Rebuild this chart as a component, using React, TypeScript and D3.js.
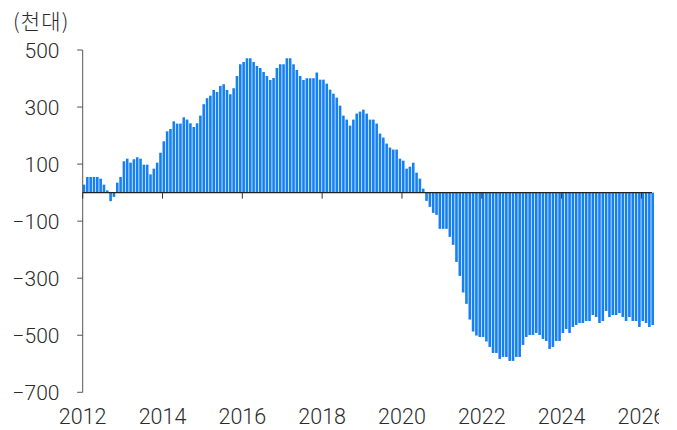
import React from 'react';
import * as d3 from 'd3';

const unitLabel = '(천대)';
const yearTicks = [2012, 2014, 2016, 2018, 2020, 2022, 2024, 2026];
const yTicks = [500, 300, 100, -100, -300, -500, -700];
const startYear = 2012;

// monthly values, Jan 2012 onward
const values = [
  // 2012
  28, 55, 55, 55, 55, 49, 28, 8, -30, -15, 35, 55,
  // 2013
  110, 119, 105, 117, 124, 119, 98, 98, 64, 84, 105, 140,
  // 2014
  180, 215, 223, 250, 242, 242, 264, 256, 243, 230, 243, 270,
  // 2015
  310, 331, 340, 360, 353, 374, 380, 360, 345, 366, 409, 450,
  // 2016
  458, 471, 471, 458, 444, 437, 423, 409, 395, 402, 437, 450,
  // 2017
  450, 471, 471, 450, 430, 409, 395, 401, 401, 401, 421, 396,
  // 2018
  396, 382, 361, 347, 333, 305, 270, 256, 235, 256, 277, 284,
  // 2019
  291, 277, 256, 256, 242, 207, 193, 172, 158, 151, 151, 119,
  // 2020
  112, 84, 91, 105, 70, 49, 14, -29, -50, -71, -78, -127,
  // 2021
  -127, -127, -155, -183, -243, -292, -350, -390, -445, -487, -501, -506,
  // 2022
  -506, -522, -541, -562, -562, -583, -576, -576, -590, -590, -576, -576,
  // 2023
  -534, -506, -499, -499, -492, -499, -513, -520, -548, -541, -520, -520,
  // 2024
  -492, -478, -492, -471, -464, -457, -457, -450, -450, -429, -436, -457,
  // 2025
  -450, -415, -436, -429, -429, -422, -436, -450, -436, -450, -450, -471,
  // 2026
  -450, -457, -471, -464,
];

const categories = values.map(
  (_, i) => `${startYear + Math.floor(i / 12)}-${String((i % 12) + 1).padStart(2, '0')}`
);

const W = 677;
const H = 430;
const plotLeft = 82.7;
const monthStep = (640.7 - 82.7) / 168;
const plotRight = plotLeft + monthStep * values.length;
const yTop = 50;
const yBottom = 392.3;

const FONT = "Roboto, 'Liberation Sans', 'Noto Sans CJK KR', Arial, sans-serif";
const KFONT = "'Noto Sans CJK KR', sans-serif";
const TEXT = '#2b2b2b';
const BAR = '#1580F3';

export default function App() {
  const x = d3
    .scaleBand<string>()
    .domain(categories)
    .range([plotLeft, plotRight])
    .paddingInner(0.22)
    .paddingOuter(0)
    .align(0);
  const step = x.step();
  const y = d3.scaleLinear().domain([-700, 500]).range([yBottom, yTop]);
  const y0 = y(0);
  const yearX = (yr: number) => plotLeft + (yr - startYear) * 12 * step;

  return (
    <svg
      width={W}
      height={H}
      style={{ position: 'absolute', left: 0, top: 0, background: '#fff' }}
      fontFamily={FONT}
    >
      <defs>
        <clipPath id="lblClip">
          <rect x={0} y={0} width={659} height={H} />
        </clipPath>
      </defs>
      <rect x={0} y={0} width={W} height={H} fill="#fff" />
      <text
        x={13}
        y={28.5}
        fontSize={21}
        fill={TEXT}
        fontFamily={KFONT}
        fontWeight={300}
        letterSpacing={1.2}
      >
        {unitLabel}
      </text>

      {/* bars */}
      <g>
        {values.map((v, i) => {
          const c = categories[i];
          const yv = y(v);
          return (
            <rect
              key={c}
              x={x(c)}
              width={x.bandwidth()}
              y={Math.min(yv, y0)}
              height={Math.abs(yv - y0)}
              fill={BAR}
            />
          );
        })}
      </g>

      {/* y axis */}
      <line x1={plotLeft} x2={plotLeft} y1={yTop} y2={yBottom} stroke="#555" strokeWidth={1} />
      {yTicks.map((t) => (
        <g key={t}>
          <line x1={plotLeft - 5.5} x2={plotLeft} y1={y(t)} y2={y(t)} stroke="#555" strokeWidth={1} />
          <text
            x={59.5}
            y={y(t)}
            dy="0.36em"
            textAnchor="end"
            fontSize={21}
            fontWeight={300}
            fill={TEXT}
          >
            {t < 0 ? `\u2212${Math.abs(t)}` : `${t}`}
          </text>
        </g>
      ))}

      {/* zero line and year ticks */}
      <line x1={plotLeft} x2={plotRight - 2} y1={y0} y2={y0} stroke="#222" strokeWidth={1.2} />
      {yearTicks.map((yr) => (
        <line
          key={yr}
          x1={yearX(yr)}
          x2={yearX(yr)}
          y1={y0}
          y2={y0 + 6}
          stroke="#333"
          strokeWidth={1}
        />
      ))}
      <g clipPath="url(#lblClip)">
        {yearTicks.map((yr) => (
          <text
            key={yr}
            x={yearX(yr)}
            y={423.5}
            textAnchor="middle"
            fontSize={21.5}
            fontWeight={300}
            fill={TEXT}
          >
            {yr}
          </text>
        ))}
      </g>
    </svg>
  );
}
